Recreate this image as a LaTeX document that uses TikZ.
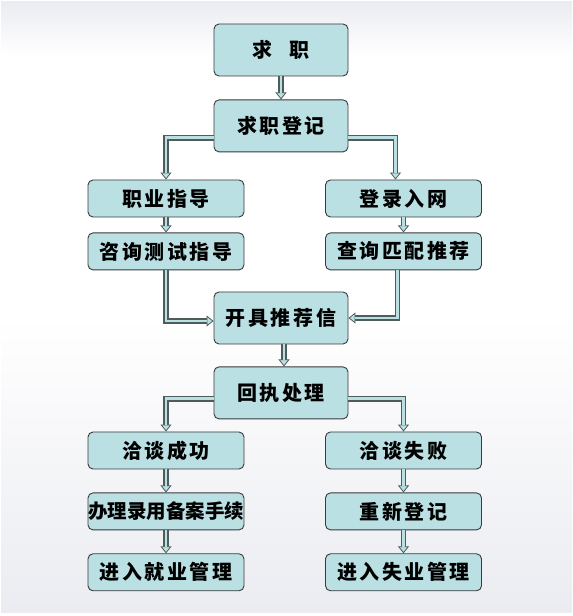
\documentclass[tikz,border=0pt]{standalone}
\usepackage{fontspec}
\newfontfamily\cjk{Noto Sans CJK SC}[LetterSpace=13]
\newfontfamily\cjktight{Noto Sans CJK SC}
\usetikzlibrary{arrows.meta,positioning}
\definecolor{boxfill}{HTML}{BAE0E3}
\definecolor{boxline}{HTML}{3A3A3A}
\definecolor{pipeedge}{HTML}{4E5C5C}
\definecolor{bggray}{RGB}{235,236,241}
\tikzset{
  big/.style={draw=boxline,rounded corners=5pt,fill=boxfill,line width=0.9pt,
    minimum width=134pt,minimum height=52pt,inner sep=0pt,font=\cjk\bfseries\fontsize{20}{20}\selectfont},
  small/.style={big,minimum width=156pt,minimum height=37pt},
  pipe/.style={draw=pipeedge,line width=5.5pt,
    -{Triangle[width=11pt,length=7pt,fill=boxfill,line width=0.8pt]},
    postaction={draw=boxfill,line width=2.8pt,-,shorten >=6.5pt}}
}
\begin{document}
\begin{tikzpicture}[x=1pt,y=1pt,node distance=23pt]
\useasboundingbox (0,0) rectangle (573,616);
% background
\fill[white] (0,0) rectangle (573,616);
\shade[top color=bggray,bottom color=white] (1,560) rectangle (572,614);
\shade[top color=white,bottom color=bggray] (1,3) rectangle (572,300);
% boxes
\node[big] (job) at (281,566) {求\hspace{0.9em}职};
\node[big,below=of job] (reg) {求职登记};
\node[small] (guide) at (166,417.5) {职业指导};
\node[small] (net) at (403.5,417.5) {登录入网};
\node[small,below=15pt of guide] (consult) {咨询测试指导};
\node[small,below=15pt of net] (match) {查询匹配推荐};
\node[big] (letter) at (281,298) {开具推荐信};
\node[big,below=22pt of letter] (reply) {回执处理};
\node[small] (ok) at (166,165.5) {洽谈成功};
\node[small] (fail) at (403.5,165.5) {洽谈失败};
\node[small,below=of ok,font=\cjktight\bfseries\fontsize{19.5}{19.5}\selectfont] (file) {办理录用备案手续};
\node[small,below=of fail] (again) {重新登记};
\node[small,below=of file] (emp) {进入就业管理};
\node[small,below=of again] (unemp) {进入失业管理};
% connectors
\draw[pipe] (job) -- (reg);
\draw[pipe] ([yshift=-12pt]reg.west) -| (guide.north);
\draw[pipe] ([yshift=-12pt]reg.east) -| ([xshift=-8pt]net.north);
\draw[pipe] (guide) -- (consult);
\draw[pipe] (net) -- (match);
\draw[pipe] (consult.south) |- ([yshift=-3pt]letter.west);
\draw[pipe] ([xshift=-6pt]match.south) |- (letter.east);
\draw[pipe] ([xshift=3pt]letter.south) -- ([xshift=3pt]reply.north);
\draw[pipe] ([yshift=-6pt]reply.west) -| (ok.north);
\draw[pipe] ([yshift=-6pt]reply.east) -| (fail.north);
\draw[pipe] (ok) -- (file);
\draw[pipe] (file) -- (emp);
\draw[pipe] (fail) -- (again);
\draw[pipe] (again) -- (unemp);
\end{tikzpicture}
\end{document}
